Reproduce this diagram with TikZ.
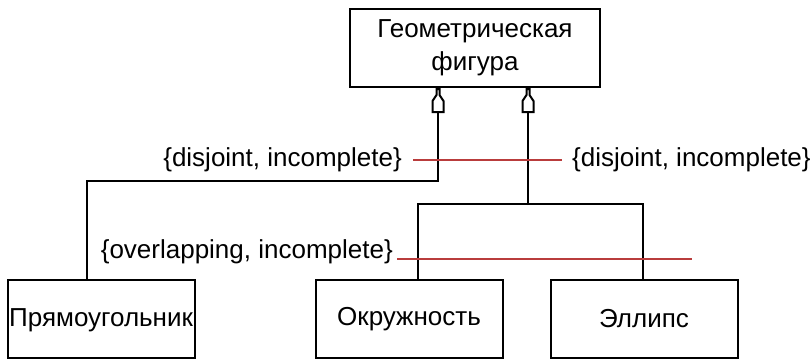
\documentclass[tikz,border=0pt]{standalone}
\usepackage{fontspec}
\setmainfont{Liberation Sans}
\usetikzlibrary{arrows.meta}
\definecolor{constr}{RGB}{185,60,60}
\pgfdeclarearrow{
  name=UMLGen,
  setup code={
    \pgfarrowssettipend{0pt}
    \pgfarrowssetlineend{-23pt}
    \pgfarrowssetbackend{-25pt}
    \pgfarrowsupperhullpoint{0pt}{2pt}
    \pgfarrowsupperhullpoint{-25pt}{7pt}
  },
  drawing code={
    \pgfsetdash{}{0pt}
    \pgfsetmiterjoin
    \pgfpathmoveto{\pgfqpoint{-1pt}{1.5pt}}
    \pgfpathlineto{\pgfqpoint{-7pt}{1.5pt}}
    \pgfpathlineto{\pgfqpoint{-13pt}{5.5pt}}
    \pgfpathlineto{\pgfqpoint{-24pt}{5.5pt}}
    \pgfpathlineto{\pgfqpoint{-24pt}{-5.5pt}}
    \pgfpathlineto{\pgfqpoint{-13pt}{-5.5pt}}
    \pgfpathlineto{\pgfqpoint{-7pt}{-1.5pt}}
    \pgfpathlineto{\pgfqpoint{-1pt}{-1.5pt}}
    \pgfpathclose
    \pgfsetfillcolor{white}
    \pgfusepathqfillstroke
  }
}
\tikzset{
  cls/.style={draw=black, line width=2pt, inner sep=0pt, minimum width=187pt, minimum height=78pt},
  lbl/.style={inner sep=0pt, font=\fontsize{26}{33}\selectfont},
  link/.style={draw=black, line width=2pt},
  gen/.style={link, -UMLGen},
  redl/.style={draw=constr, line width=2pt}
}
\begin{document}
\begin{tikzpicture}[x=1pt,y=-1pt]
\useasboundingbox (0,0) rectangle (811,360);
\node[cls, minimum width=250pt, align=center, font=\fontsize{26}{33}\selectfont] (top) at (475,48) {Геометрическая\\фигура};
\node[cls] (pr) at (101.5,319) {};
\node[lbl, anchor=west] (prt) at (9,320) {Прямоугольник};
\node[cls, font=\fontsize{26}{33}\selectfont] (ok) at (409,319) {Окружность};
\node[cls, font=\fontsize{26}{33}\selectfont] (el) at (644,319) {Эллипс};
\node[lbl, anchor=east] (lab1) at (402,160) {\{disjoint, incomplete\}};
\node[lbl, anchor=west] (lab2) at (572,160) {\{disjoint, incomplete\}};
\node[lbl, anchor=east] (lab3) at (393,252) {\{overlapping, incomplete\}};
\coordinate (jr) at (528,205);
\coordinate (r2) at (692,259);
% left generalization
\draw[gen] ([xshift=-14.5pt]pr.north) -- ++(0,-98) -| ([xshift=-37pt]top.south);
% right generalization tree
\draw[link] ([xshift=9pt]ok.north) -- ++(0,-75) -| ([xshift=-1pt]el.north);
\draw[gen] (jr) -- ([xshift=53pt]top.south);
% constraint lines
\draw[redl] ([xshift=11pt]lab1.east) -- ([xshift=-10pt]lab2.west);
\draw[redl] (lab3.east |- r2) ++(4,0) -- (r2);
\end{tikzpicture}
\end{document}
